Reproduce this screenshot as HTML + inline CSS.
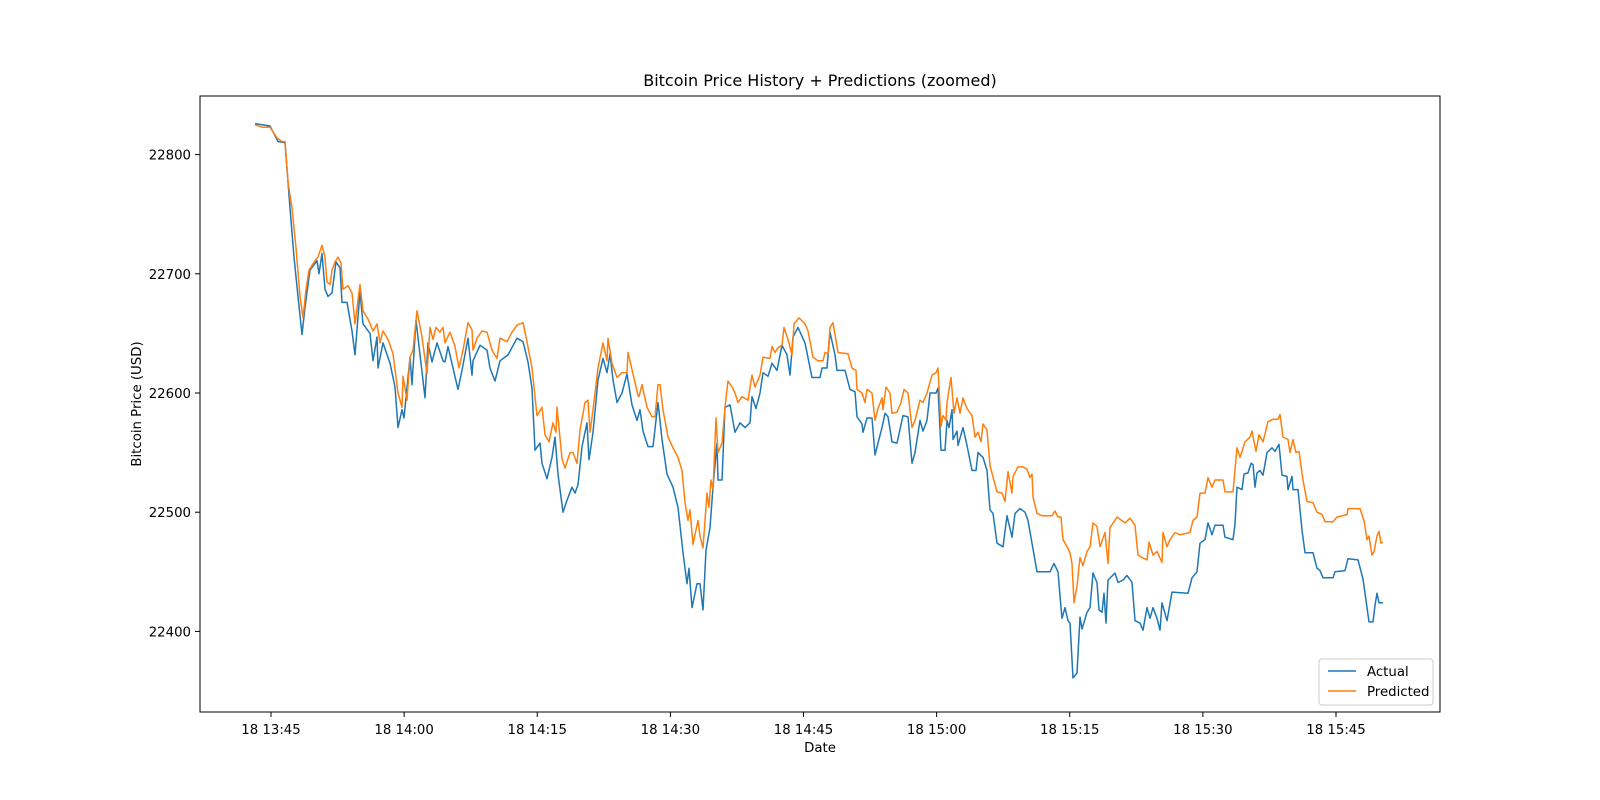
<!DOCTYPE html>
<html><head><meta charset="utf-8"><title>Bitcoin Price History + Predictions</title>
<style>
html,body{margin:0;padding:0;background:#fff;}
svg{display:block;font-family:"DejaVu Sans","Liberation Sans",sans-serif;}
</style></head>
<body>
<svg id="chart" width="1600" height="800" viewBox="0 0 1600 800" xmlns="http://www.w3.org/2000/svg">
<rect x="0" y="0" width="1600" height="800" fill="#fff"/>
<text x="820" y="86" text-anchor="middle" font-size="16" fill="#000">Bitcoin Price History + Predictions (zoomed)</text>
<g id="xticks"></g>
<g id="yticks"></g>
<text x="820" y="752" text-anchor="middle" font-size="13.3">Date</text>
<text transform="translate(141,404) rotate(-90)" text-anchor="middle" font-size="13.3">Bitcoin Price (USD)</text>
<g id="series"></g>
<rect x="200" y="96" width="1240" height="616" fill="none" stroke="#000" stroke-width="1"/>
<g>
<rect x="1319" y="659" width="114" height="46" rx="3" fill="#fff" fill-opacity="0.8" stroke="#ccc" stroke-width="1"/>
<line x1="1328" y1="671" x2="1356" y2="671" stroke="#1f77b4" stroke-width="1.5"/>
<text x="1367" y="676" font-size="13.3">Actual</text>
<line x1="1328" y1="691" x2="1356" y2="691" stroke="#ff7f0e" stroke-width="1.5"/>
<text x="1367" y="696" font-size="13.3">Predicted</text>
</g>
</svg>
<script>
// minutes after 18 13:45
const xTickMinutes = [0, 15, 30, 45, 60, 75, 90, 105, 120];
const xTickLabels = ["18 13:45","18 14:00","18 14:15","18 14:30","18 14:45","18 15:00","18 15:15","18 15:30","18 15:45"];
const yTickValues = [22400, 22500, 22600, 22700, 22800];
const yTickLabels = ["22400","22500","22600","22700","22800"];

const actualT = [-1.80,-0.11,0.79,1.58,1.92,2.14,2.59,3.04,3.49,3.83,4.39,5.18,5.41,5.75,6.08,6.42,6.87,7.32,7.77,8.00,8.56,9.13,9.46,10.03,10.37,11.15,11.49,11.94,12.06,12.62,13.41,13.97,14.31,14.76,14.99,15.66,15.89,16.34,17.35,17.69,18.14,18.70,19.38,19.61,19.94,20.51,21.07,21.52,22.20,22.65,22.76,23.55,24.34,24.68,25.24,25.80,26.70,27.72,28.39,28.96,29.41,29.75,30.31,30.54,31.10,31.66,32.00,32.34,32.90,33.35,33.92,34.25,34.59,35.04,35.61,35.83,36.28,36.85,37.41,37.86,38.20,38.54,38.99,39.55,40.11,40.68,41.24,41.58,41.92,42.48,43.04,43.61,44.06,44.62,45.30,45.86,46.42,46.87,47.10,47.44,48.00,48.34,48.68,49.01,49.46,49.80,50.25,50.37,50.82,51.16,51.72,52.28,52.85,53.41,53.97,54.20,54.65,55.10,55.44,56.00,56.45,57.01,57.58,58.14,58.48,58.82,59.38,60.17,60.96,61.86,62.08,62.65,62.99,63.55,63.77,64.68,65.24,65.80,66.03,66.59,66.70,67.15,67.72,68.06,68.39,68.85,69.18,69.52,69.97,70.54,71.21,71.77,72.23,72.56,73.13,73.46,73.92,74.25,74.93,75.15,75.49,75.94,76.17,76.39,76.73,76.85,77.30,77.41,77.97,78.42,78.99,79.44,79.66,80.23,80.68,81.01,81.35,81.80,82.48,82.93,83.49,83.83,84.39,84.96,85.30,85.75,86.31,87.77,88.23,88.68,89.01,89.13,89.46,89.80,90.03,90.37,90.82,91.15,91.38,91.94,92.28,92.62,93.07,93.30,93.63,93.86,94.08,94.31,95.10,95.44,96.00,96.45,97.01,97.35,97.92,98.25,98.70,99.04,99.38,99.83,100.17,100.39,100.96,101.52,103.32,103.77,104.34,104.68,105.24,105.58,106.03,106.37,107.27,107.49,108.39,108.62,108.85,109.41,109.63,110.08,110.42,110.65,110.87,111.10,111.44,111.77,112.23,112.79,113.13,113.58,113.92,114.48,114.59,115.04,115.15,115.72,116.17,116.51,117.41,117.86,118.20,118.54,119.66,119.89,121.01,121.35,122.48,123.04,123.38,123.72,124.17,124.39,124.62,124.85,125.30];
const actualV = [22826,22824,22811,22810,22777,22755,22714,22681,22649,22672,22703,22711,22700,22717,22687,22681,22684,22710,22705,22676,22676,22652,22632,22685,22658,22650,22627,22647,22621,22642,22625,22605,22571,22586,22579,22630,22607,22661,22596,22642,22626,22642,22627,22626,22639,22621,22603,22619,22646,22615,22627,22640,22636,22621,22610,22627,22632,22646,22643,22626,22604,22552,22558,22541,22528,22546,22563,22532,22500,22510,22521,22516,22523,22555,22575,22544,22567,22611,22629,22617,22633,22611,22592,22600,22616,22590,22577,22586,22568,22555,22555,22592,22561,22532,22521,22504,22466,22440,22453,22420,22440,22440,22418,22468,22487,22521,22558,22527,22527,22588,22590,22567,22575,22571,22575,22597,22587,22600,22617,22614,22625,22619,22640,22632,22615,22647,22655,22642,22613,22613,22621,22621,22651,22632,22619,22619,22603,22601,22580,22574,22567,22579,22579,22548,22558,22571,22583,22580,22559,22558,22581,22580,22541,22550,22577,22568,22577,22600,22600,22604,22552,22552,22577,22571,22586,22561,22568,22556,22571,22556,22535,22535,22550,22546,22535,22502,22499,22474,22471,22497,22479,22499,22503,22500,22493,22474,22450,22450,22457,22450,22420,22411,22420,22409,22407,22361,22365,22412,22402,22416,22420,22449,22441,22418,22416,22432,22407,22443,22449,22441,22443,22447,22441,22409,22407,22401,22420,22411,22420,22411,22401,22424,22409,22433,22432,22445,22450,22474,22477,22491,22481,22489,22489,22479,22477,22490,22521,22519,22532,22533,22541,22540,22521,22533,22535,22531,22550,22554,22551,22557,22531,22530,22519,22530,22519,22519,22485,22466,22466,22453,22451,22445,22445,22450,22451,22461,22460,22444,22426,22408,22408,22422,22432,22424,22424];

const predT = [-1.80,-1.01,-0.11,0.68,1.24,1.58,1.92,2.37,2.82,3.27,3.61,3.94,4.28,4.96,5.30,5.75,6.08,6.31,6.65,6.87,7.21,7.55,7.89,8.11,8.68,9.13,9.46,10.03,10.37,10.93,11.49,11.94,12.28,12.62,13.18,13.75,14.31,14.76,14.87,15.32,15.66,16.00,16.45,17.01,17.58,17.92,18.25,18.59,19.04,19.38,19.61,20.17,20.73,21.18,21.63,22.20,22.65,22.76,23.21,23.77,24.34,24.90,25.46,25.80,26.59,27.15,27.72,28.39,28.85,29.41,29.97,30.54,30.87,31.32,31.77,32.11,32.23,32.79,33.13,33.69,34.03,34.48,34.82,35.38,35.72,35.94,36.28,36.85,37.41,37.86,37.97,38.42,38.99,39.55,40.11,40.23,40.79,41.35,41.46,41.80,42.37,42.93,43.27,43.61,43.83,44.17,44.73,45.30,45.86,46.31,46.65,46.99,47.21,47.55,48.11,48.34,48.68,49.13,49.35,49.58,49.80,50.14,50.37,50.82,51.16,51.49,51.94,52.28,52.62,53.07,53.75,54.20,54.54,55.10,55.44,56.23,56.45,56.79,57.13,57.58,57.80,58.25,58.70,58.93,59.49,60.17,60.51,61.07,61.63,62.20,62.42,62.76,62.99,63.32,63.89,65.01,65.46,65.92,66.03,66.59,66.93,67.15,67.72,68.06,68.39,68.85,68.96,69.30,69.75,69.97,70.54,70.99,71.32,71.77,72.23,72.56,73.13,73.46,73.92,74.48,74.93,75.15,75.49,75.72,76.06,76.17,76.62,76.96,77.30,77.63,77.97,78.42,78.99,79.32,79.66,80.00,80.23,80.68,81.01,81.80,82.37,82.70,83.04,83.49,83.61,84.17,84.73,85.18,85.52,85.75,85.86,86.31,86.87,88.00,88.34,88.68,89.01,89.24,89.69,90.03,90.25,90.48,90.82,91.15,91.49,91.94,92.28,92.62,93.07,93.41,93.97,94.31,94.54,95.32,96.23,96.79,97.35,97.69,98.14,98.70,98.93,99.38,99.83,100.39,100.51,100.96,101.30,101.86,102.42,103.55,103.89,104.34,104.68,105.24,105.58,106.03,106.37,107.27,107.49,108.39,108.85,109.18,109.75,110.31,110.54,110.99,111.32,111.77,112.34,112.90,113.46,113.69,114.03,114.59,114.82,115.15,115.49,115.83,116.28,116.73,117.41,117.86,118.42,118.76,119.66,120.11,121.24,121.35,122.70,123.16,123.49,123.72,124.06,124.28,124.62,124.85,125.07,125.30];
const predV = [22825,22823,22823,22814,22811,22811,22777,22755,22722,22681,22663,22687,22703,22711,22714,22724,22714,22693,22691,22703,22710,22714,22709,22687,22690,22684,22658,22691,22669,22662,22652,22658,22642,22652,22645,22633,22600,22588,22614,22594,22630,22636,22669,22647,22616,22655,22645,22655,22651,22655,22642,22651,22639,22621,22636,22659,22653,22636,22646,22652,22651,22636,22629,22646,22643,22651,22657,22659,22643,22621,22581,22588,22565,22559,22575,22567,22588,22545,22537,22550,22550,22541,22569,22592,22594,22567,22586,22621,22642,22627,22646,22625,22613,22617,22617,22634,22616,22598,22597,22607,22588,22580,22580,22607,22607,22586,22563,22554,22546,22535,22508,22493,22502,22473,22493,22480,22470,22516,22504,22527,22519,22579,22550,22558,22588,22610,22605,22600,22592,22597,22594,22615,22605,22615,22630,22629,22639,22634,22638,22640,22655,22645,22632,22658,22663,22658,22652,22630,22627,22627,22634,22633,22655,22659,22634,22633,22621,22619,22603,22600,22592,22603,22600,22577,22587,22596,22586,22605,22600,22583,22584,22592,22603,22600,22571,22577,22594,22592,22600,22615,22617,22621,22572,22581,22577,22592,22613,22583,22596,22583,22596,22587,22581,22563,22567,22559,22574,22569,22539,22517,22516,22509,22534,22516,22530,22538,22538,22536,22529,22532,22513,22499,22497,22497,22501,22496,22496,22477,22471,22466,22457,22424,22438,22462,22455,22467,22471,22491,22488,22471,22483,22457,22487,22496,22491,22495,22489,22464,22462,22460,22475,22464,22467,22458,22483,22471,22477,22483,22481,22483,22493,22496,22516,22516,22529,22521,22527,22527,22517,22517,22554,22546,22559,22563,22568,22551,22565,22559,22576,22578,22578,22582,22563,22561,22550,22561,22550,22551,22527,22509,22508,22500,22498,22492,22492,22496,22498,22503,22503,22493,22477,22480,22464,22467,22480,22484,22474,22475];

const SVGNS = "http://www.w3.org/2000/svg";
const AX_L = 200, AX_R = 1440, AX_T = 96, AX_B = 712;
const X0 = 271, PX_PER_MIN = 8.875;
const Y_REF = 22800, Y_REF_PX = 154.6, PX_PER_USD = 1.192;
function xScale(m){ return X0 + m * PX_PER_MIN; }
function yScale(v){ return Y_REF_PX + (Y_REF - v) * PX_PER_USD; }

const xg = document.getElementById('xticks');
xTickMinutes.forEach(function(m, i){
  const x = xScale(m);
  const t = document.createElementNS(SVGNS, 'line');
  t.setAttribute('x1', x); t.setAttribute('x2', x);
  t.setAttribute('y1', AX_B); t.setAttribute('y2', AX_B + 5);
  t.setAttribute('stroke', '#000');
  
  
  xg.appendChild(t);
  const lb = document.createElementNS(SVGNS, 'text');
  lb.setAttribute('x', x); lb.setAttribute('y', AX_B + 22);
  lb.setAttribute('text-anchor', 'middle'); lb.setAttribute('font-size', '13.3');
  lb.textContent = xTickLabels[i];
  
  
  xg.appendChild(lb);
});

const yg = document.getElementById('yticks');
yTickValues.forEach(function(v, i){
  const y = yScale(v);
  const t = document.createElementNS(SVGNS, 'line');
  t.setAttribute('x1', AX_L - 5); t.setAttribute('x2', AX_L);
  t.setAttribute('y1', y); t.setAttribute('y2', y);
  t.setAttribute('stroke', '#000');
  
  
  yg.appendChild(t);
  const lb = document.createElementNS(SVGNS, 'text');
  lb.setAttribute('x', AX_L - 9); lb.setAttribute('y', y + 5);
  lb.setAttribute('text-anchor', 'end'); lb.setAttribute('font-size', '13.3');
  lb.textContent = yTickLabels[i];
  
  
  yg.appendChild(lb);
});

function drawSeries(ts, vs, color, name){
  let d = '';
  for (let i = 0; i < ts.length; i++){
    d += (i ? 'L' : 'M') + xScale(ts[i]).toFixed(1) + ',' + yScale(vs[i]).toFixed(1);
  }
  const p = document.createElementNS(SVGNS, 'path');
  p.setAttribute('d', d);
  p.setAttribute('fill', 'none');
  p.setAttribute('stroke', color);
  p.setAttribute('stroke-width', '1.5');
  p.setAttribute('stroke-linejoin', 'round');
  
  
  document.getElementById('series').appendChild(p);
}
drawSeries(actualT, actualV, '#1f77b4', 'actual-line');
drawSeries(predT, predV, '#ff7f0e', 'predicted-line');
</script>
</body></html>
